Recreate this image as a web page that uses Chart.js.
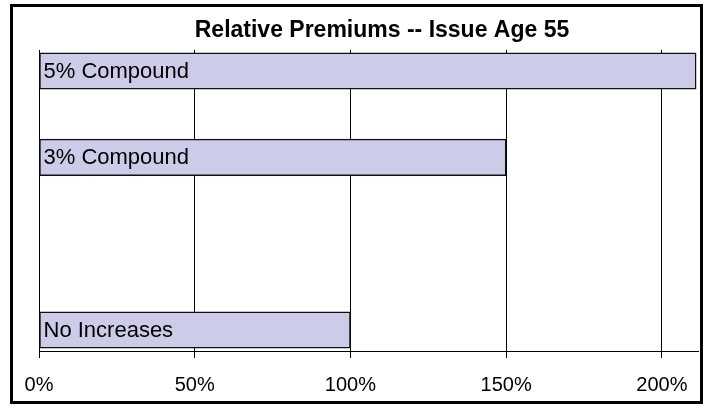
<!DOCTYPE html>
<html>
<head>
<meta charset="utf-8">
<script src="https://cdn.jsdelivr.net/npm/chart.js@4"></script>
<style>
  html, body { margin: 0; padding: 0; background: #fff; }
  #wrap { width: 707px; height: 406px; }
</style>
</head>
<body>
<div id="wrap"><canvas id="premium-chart" width="707" height="406"></canvas></div>
<script>
// top to bottom, '' is an empty slot in the category axis
const categories = ["5% Compound", "3% Compound", "", "No Increases"];
const premiums = [211, 150, null, 100];
const xTicks = [0, 50, 100, 150, 200];
const chartTitle = "Relative Premiums -- Issue Age 55";

const FONT = "'Liberation Sans', Arial, sans-serif";

// black frame around the whole chart, plus the title (sits a bit right of the plot centre)
const framePlugin = {
    id: "frame",
    afterDraw(chart) {
        const ctx = chart.ctx;
        ctx.save();
        ctx.strokeStyle = "#000";
        ctx.lineWidth = 3;
        ctx.strokeRect(11.5, 5.5, 690, 397);
        ctx.font = "bold 23px " + FONT;
        ctx.fillStyle = "#000";
        ctx.textAlign = "center";
        ctx.textBaseline = "middle";
        ctx.fillText(chartTitle, 382, 31);
        ctx.restore();
    }
};

// category names written inside the bars
const barLabelPlugin = {
    id: "barLabels",
    afterDatasetsDraw(chart) {
        const ctx = chart.ctx;
        const meta = chart.getDatasetMeta(0);
        ctx.save();
        ctx.font = "22px " + FONT;
        ctx.fillStyle = "#000";
        ctx.textAlign = "left";
        ctx.textBaseline = "middle";
        meta.data.forEach((bar, i) => {
            if (premiums[i] === null) return;
            ctx.fillText(categories[i], bar.base + 4, bar.y + 1);
        });
        ctx.restore();
    }
};

const ctx_premium = document.getElementById("premium-chart").getContext("2d");
const premium_chart = new Chart(ctx_premium, {
    type: "bar",
    data: {
        datasets: [{
            data: categories.map((c, i) => ({ x: premiums[i], y: i })),
            backgroundColor: "rgb(204, 204, 232)",
            borderColor: "#111",
            borderWidth: 1.5,
            borderSkipped: false,
            barThickness: 36.5,
        }]
    },
    options: {
        responsive: false,
        animation: false,
        indexAxis: "y",
        layout: {
            padding: { left: 39, right: 9, top: 50, bottom: 8 }
        },
        scales: {
            x: {
                type: "linear",
                min: 0,
                max: 211.6,
                afterBuildTicks: (axis) => {
                    axis.ticks = xTicks.map(v => ({ value: v }));
                },
                afterFit: (axis) => { axis.height = 47; },
                grid: {
                    color: "#000",
                    lineWidth: 1,
                    tickLength: 7,
                },
                border: { color: "#000", width: 1 },
                ticks: {
                    color: "#000",
                    padding: 15,
                    maxRotation: 0,
                    font: { family: FONT, size: 20 },
                    callback: (v) => v + "%",
                },
            },
            y: {
                type: "linear",
                reverse: true,
                offset: false,
                min: -0.243,
                max: 3.243,
                afterFit: (axis) => { axis.width = 0; },
                grid: { display: false },
                ticks: { display: false },
                border: { color: "#000", width: 1 },
            },
        },
        plugins: {
            legend: { display: false },
            tooltip: { enabled: false },
            title: { display: false },
        }
    },
    plugins: [framePlugin, barLabelPlugin]
});
</script>
</body>
</html>
